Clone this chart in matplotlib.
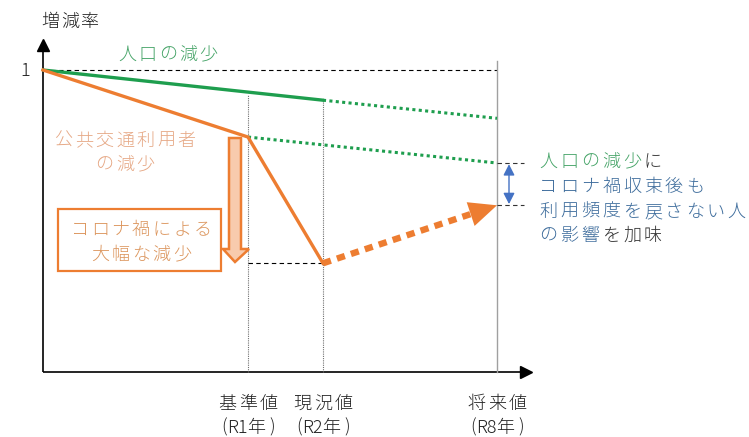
import matplotlib
matplotlib.use("Agg")
import matplotlib.pyplot as plt
from matplotlib.patches import Rectangle, Polygon
import numpy as np

plt.rcParams['font.family'] = ['Noto Sans CJK JP', 'DejaVu Sans']

# ---- data (schematic positions / rates) ----
x_start, x_r1, x_r2, x_r8 = 0, 205, 280, 454
pop_x = [x_start, x_r2]
pop_y = [1.0, 0.95]
pop_future_x = [x_r2, x_r8]
pop_future_y = [0.95, 0.92]
user_x = [x_start, x_r1, x_r2]
user_y = [1.0, 0.889, 0.680]
user_pop_x = [x_r1, x_r8]
user_pop_y = [0.889, 0.846]
user_future_x = [x_r2, x_r8]
user_future_y = [0.680, 0.776]
vline_x = [x_r1, x_r2, x_r8]
vline_top = [0.9586, 0.9503, 1.0149]
axis_bottom = 0.5
cat_names = ["基準値", "現況値", "将来値"]
cat_years = ["R1", "R2", "R8"]

GREEN = "#1e9e4e"
ORANGE = "#ed7d31"
BLUE = "#4472c4"

fig = plt.figure(figsize=(7.49, 4.37), dpi=100)
ax = fig.add_axes([0, 0, 1, 1])
ax.set_xlim(-43, 706)
ax.set_ylim(1 - 367 / 604, 1 + 70 / 604)
ax.axis("off")

ov = fig.add_axes([0, 0, 1, 1], zorder=5)
ov.set_xlim(0, 749)
ov.set_ylim(437, 0)
ov.axis("off")
ov.patch.set_alpha(0)

# axes lines with arrows
ax.plot([0, 0], [axis_bottom, 1.04], color="black", lw=1.2, solid_capstyle="butt")
ax.plot([0, 483], [axis_bottom, axis_bottom], color="black", lw=1.2, solid_capstyle="butt")
ax.plot([0], [1.041], marker="^", color="black", ms=8.5, clip_on=False)
ax.plot([483], [axis_bottom], marker=">", color="black", ms=8.5, clip_on=False)

# reference lines
ax.plot([x_start, x_r8], [1.0, 1.0], color="black", lw=0.8, ls=(0, (4, 3)))
for i, (xv, yt) in enumerate(zip(vline_x, vline_top)):
    if i < 2:
        ax.plot([xv, xv], [axis_bottom, yt], color="#707070", lw=0.8, ls=(0, (1, 1)))
    else:
        ax.plot([xv, xv], [axis_bottom, yt], color="#a0a0a0", lw=1.0)
ax.plot([x_r1, x_r2], [user_y[2], user_y[2]], color="black", lw=0.8, ls=(0, (4, 3)))
for yv in [user_pop_y[1], user_future_y[1]]:
    ax.plot([x_r8, x_r8 + 27], [yv, yv], color="#333333", lw=0.8, ls=(0, (4, 3)))

# population line
ax.plot(pop_x, pop_y, color=GREEN, lw=2.4, solid_capstyle="round")
ax.plot(pop_future_x, pop_future_y, color=GREEN, lw=2.2, ls=(0, (1, 1.1)), dash_capstyle="butt")
ax.plot(user_pop_x, user_pop_y, color=GREEN, lw=2.2, ls=(0, (1, 1.1)), dash_capstyle="butt")

# users line
ax.plot(user_x, user_y, color=ORANGE, lw=2.4, solid_joinstyle="miter")

# future dotted arrow
x0, y0 = user_future_x[0], user_future_y[0]
x1, y1 = user_future_x[1], user_future_y[1]
f_line = 1 - 22 / 183
f_tail = 1 - 40 / 183
ax.plot([x0, x0 + (x1 - x0) * f_line], [y0, y0 + (y1 - y0) * f_line],
        color=ORANGE, lw=4.6, ls=(0, (1.3, 1.0)), dash_capstyle="butt")
ax.annotate("", xy=(x1, y1), xytext=(x0 + (x1 - x0) * f_tail, y0 + (y1 - y0) * f_tail),
            arrowprops=dict(arrowstyle="-|>,head_length=1.0,head_width=0.45",
                            mutation_scale=20, color=ORANGE, lw=0,
                            shrinkA=0, shrinkB=0))

# blue double arrow
ax.annotate("", xy=(466, user_future_y[1] + 0.002), xytext=(466, user_pop_y[1] - 0.002),
            arrowprops=dict(arrowstyle="<|-|>,head_length=0.55,head_width=0.28",
                            mutation_scale=12, color=BLUE, lw=1.0,
                            shrinkA=0, shrinkB=0))

# block down arrow (orange)
sx0, sx1, top, hs, tip, hx0, hx1 = 229, 241, 138, 249, 262, 223, 249
arrow_poly = [(sx0, top), (sx1, top), (sx1, hs), (hx1, hs), ((sx0 + sx1) / 2, tip),
              (hx0, hs), (sx0, hs)]
ov.add_patch(Polygon(arrow_poly, closed=True, facecolor="#f8cbad", edgecolor=ORANGE,
                     lw=1.8, joinstyle="miter"))

# box
ov.add_patch(Rectangle((58, 209), 163, 62, facecolor="white", edgecolor=ORANGE, lw=1.6))

FS = 13


def ptext(x0, y, segs, pitch=20.5, size=FS, ha="left"):
    chars = [(c, col) for s, col in segs for c in s]
    n = len(chars)
    if ha == "center":
        x0 = x0 - pitch * n / 2
    for i, (c, col) in enumerate(chars):
        ov.text(x0 + pitch * (i + 0.5), y, c, color=col, ha="center", va="center",
                fontsize=size, fontweight="light")


def ctext(x, y, s, col="#222222", size=FS):
    ov.text(x, y, s, color=col, ha="center", va="center", fontsize=size,
            fontweight="light")


GTXT = "#46a468"
BTXT = "#3d6c9c"
KTXT = "#333333"
OTXT = "#e6a885"
BOXTXT = "#dc965e"

ptext(41, 22, [("増減率", "#222222")], pitch=19.5)
ctext(25, 71, "1")
ptext(168, 55, [("人口の減少", GTXT)], pitch=20.3, ha="center")
ptext(125, 141, [("公共交通利用者", OTXT)], pitch=20.6, ha="center")
ptext(125, 165, [("の減少", OTXT)], pitch=20.6, ha="center")
ptext(141, 230, [("コロナ禍による", BOXTXT)], pitch=20.5, ha="center")
ptext(141, 255, [("大幅な減少", BOXTXT)], pitch=20.5, ha="center")

ptext(538, 162, [("人口の減少", GTXT), ("に", KTXT)], pitch=20.9)
ptext(538, 187, [("コロナ禍収束後も", BTXT)], pitch=20.9)
ptext(538, 212, [("利用頻度を戻さない人", BTXT)], pitch=20.9)
ptext(538, 236, [("の影響", BTXT), ("を加味", KTXT)], pitch=20.9)

for xv, nm, yr in zip(vline_x, cat_names, cat_years):
    xp = 43 + xv
    ptext(xp, 404, [(nm, "#222222")], pitch=20.7, ha="center")
    ctext(xp - 24, 427, "(")
    ctext(xp - 11, 428, yr)
    ctext(xp + 8, 428, "年")
    ctext(xp + 24, 427, ")")

fig.savefig("out.png", dpi=100)
